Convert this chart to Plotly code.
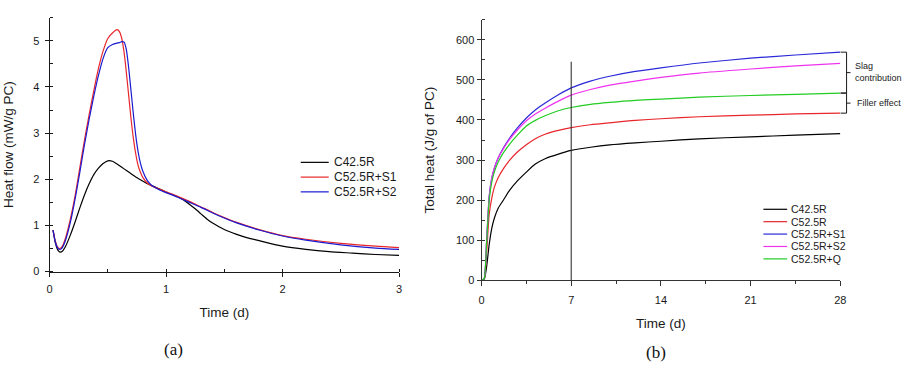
import plotly.graph_objects as go

W, H = 909, 374

# ---------------- Panel (a): heat flow ----------------
a_time_black = [0.03, 0.05, 0.07, 0.09, 0.11, 0.14, 0.18, 0.22, 0.26, 0.30, 0.34, 0.38, 0.42, 0.46,
                0.50, 0.54, 0.58, 0.62, 0.66, 0.70, 0.74, 0.78, 0.82, 0.86, 0.90, 0.95, 1.00, 1.05,
                1.10, 1.15, 1.20, 1.25, 1.30, 1.35, 1.40, 1.50, 1.60, 1.70, 1.80, 2.00, 2.20, 2.40,
                2.60, 2.80, 3.00]
a_c425r = [0.90, 0.62, 0.47, 0.42, 0.44, 0.56, 0.80, 1.08, 1.38, 1.66, 1.90, 2.10, 2.24, 2.34,
           2.40, 2.39, 2.33, 2.26, 2.19, 2.12, 2.05, 1.99, 1.93, 1.88, 1.84, 1.78, 1.72, 1.67,
           1.62, 1.55, 1.46, 1.36, 1.25, 1.14, 1.05, 0.91, 0.81, 0.73, 0.67, 0.55, 0.48, 0.43,
           0.40, 0.37, 0.35]

a_time_blend = [0.03, 0.05, 0.07, 0.09, 0.11, 0.14, 0.18, 0.22, 0.26, 0.30, 0.34, 0.38, 0.42, 0.46,
                0.50, 0.54, 0.58, 0.60, 0.62, 0.64, 0.66, 0.68, 0.70, 0.72, 0.74, 0.76, 0.78, 0.80,
                0.84, 0.88, 0.92, 0.96, 1.00, 1.10, 1.20, 1.30, 1.40, 1.50, 1.60, 1.80, 2.00, 2.20,
                2.50, 2.80, 3.00]
a_s1 = [0.90, 0.66, 0.53, 0.50, 0.55, 0.75, 1.15, 1.65, 2.25, 2.85, 3.40, 3.92, 4.40, 4.78,
        5.05, 5.17, 5.24, 5.20, 5.05, 4.75, 4.30, 3.80, 3.30, 2.88, 2.55, 2.30, 2.15, 2.04,
        1.92, 1.85, 1.81, 1.77, 1.73, 1.63, 1.52, 1.40, 1.28, 1.17, 1.07, 0.91, 0.78, 0.70,
        0.61, 0.55, 0.52]
a_s2 = [0.90, 0.64, 0.51, 0.48, 0.52, 0.70, 1.08, 1.58, 2.15, 2.75, 3.30, 3.80, 4.25, 4.62,
        4.85, 4.92, 4.95, 4.96, 4.98, 4.97, 4.80, 4.40, 3.90, 3.40, 2.95, 2.60, 2.35, 2.18,
        1.97, 1.86, 1.80, 1.75, 1.71, 1.61, 1.50, 1.39, 1.27, 1.16, 1.06, 0.90, 0.77, 0.68,
        0.58, 0.51, 0.48]

a_names = ["C42.5R", "C52.5R+S1", "C52.5R+S2"]
a_colors = ["#000000", "#e8262b", "#1a1ad0"]
a_xticks = [0, 1, 2, 3]
a_yticks = [0, 1, 2, 3, 4, 5]

# ---------------- Panel (b): total heat ----------------
b_time = [0, 0.2, 0.4, 0.6, 0.8, 1.0, 1.3, 1.7, 2.2, 2.8, 3.5, 4.2, 5, 6, 7, 8.5, 10, 12, 14,
          17, 21, 24.5, 28]
b_c425r = [0, 2, 35, 90, 130, 155, 180, 200, 225, 248, 270, 290, 304, 315, 324, 332, 338, 343,
           347, 353, 358, 362, 366]
b_c525r = [0, 3, 70, 165, 205, 232, 256, 278, 300, 320, 338, 353, 365, 374, 381, 388, 393, 399,
           403, 408, 412, 415, 417]
b_s1 = [0, 4, 100, 210, 255, 280, 305, 330, 355, 380, 405, 425, 443, 463, 480, 497, 509, 521,
        530, 542, 554, 562, 569]
b_s2 = [0, 4, 100, 210, 255, 280, 305, 328, 352, 375, 398, 415, 430, 447, 462, 476, 487, 497,
        506, 517, 527, 535, 541]
b_q = [0, 4, 95, 200, 245, 270, 295, 318, 340, 362, 385, 399, 411, 423, 431, 439, 444, 449,
       452, 457, 461, 464, 467]

b_names = ["C42.5R", "C52.5R", "C52.5R+S1", "C52.5R+S2", "C52.5R+Q"]
b_colors = ["#000000", "#e8262b", "#2a2ad8", "#ee33ee", "#22cc22"]
b_xticks = [0, 7, 14, 21, 28]
b_yticks = [0, 100, 200, 300, 400, 500, 600]

marker_day = 7
marker_top = 545

brace_labels = [["Slag", "contribution"], ["Filler effect"]]


def pxx(x):
    return x / W


def pyy(y):
    return 1 - y / H


fig = go.Figure()

for t, y, name, c in zip([a_time_black, a_time_blend, a_time_blend], [a_c425r, a_s1, a_s2],
                         a_names, a_colors):
    fig.add_trace(go.Scatter(x=t, y=y, name=name, mode="lines", xaxis="x", yaxis="y",
                             line=dict(color=c, width=1.2, shape="spline", smoothing=0.6),
                             showlegend=False))

for y, name, c in zip([b_c425r, b_c525r, b_s1, b_s2, b_q], b_names, b_colors):
    fig.add_trace(go.Scatter(x=b_time, y=y, name=name, mode="lines", xaxis="x2", yaxis="y2",
                             line=dict(color=c, width=1.2, shape="spline", smoothing=0.6),
                             showlegend=False))

# vertical marker at 7 d
fig.add_trace(go.Scatter(x=[marker_day, marker_day], y=[0, marker_top], mode="lines",
                         xaxis="x2", yaxis="y2", line=dict(color="#333333", width=1.1),
                         showlegend=False, hoverinfo="skip"))

axis_common = dict(showline=True, linecolor="#1a1a1a", linewidth=1, showgrid=False,
                   zeroline=False, ticks="outside", ticklen=4, tickcolor="#1a1a1a",
                   tickfont=dict(family="Liberation Sans, Arial", size=11, color="#1a1a1a"),
                   fixedrange=True)
title_font = dict(family="Liberation Sans, Arial", size=13.5, color="#1a1a1a")

fig.update_layout(
    width=W, height=H, margin=dict(l=0, r=0, t=0, b=0),
    paper_bgcolor="white", plot_bgcolor="white", showlegend=False,
    xaxis=dict(axis_common, domain=[pxx(47), pxx(400)], range=[0, 3], tickvals=a_xticks,
               anchor="y", ticklabelstandoff=3,
               minor=dict(dtick=0.5, ticks="inside", ticklen=3, tickcolor="#1a1a1a"),
               title=dict(text="Time (d)", font=title_font, standoff=13)),
    yaxis=dict(axis_common, domain=[pyy(276), pyy(18)], range=[0, 5.5], tickvals=a_yticks,
               anchor="x", ticklabelstandoff=3,
               minor=dict(dtick=0.5, ticks="inside", ticklen=3, tickcolor="#1a1a1a"),
               title=dict(text="Heat flow (mW/g PC)", font=title_font, standoff=16)),
    xaxis2=dict(axis_common, domain=[pxx(483.3), pxx(845.7)], range=[0, 28], tickvals=b_xticks,
                anchor="y2", ticklabelstandoff=4,
                minor=dict(dtick=3.5, ticks="outside", ticklen=3, tickcolor="#333"),
                ticklen=5, linecolor="#333", tickcolor="#333",
                title=dict(text="Time (d)", font=title_font, standoff=13)),
    yaxis2=dict(axis_common, domain=[pyy(285), pyy(20)], range=[0, 650], tickvals=b_yticks,
                anchor="x2", minor=dict(dtick=50, ticks="inside", ticklen=3, tickcolor="#333"),
                linecolor="#333", tickcolor="#333",
                title=dict(text="Total heat (J/g of PC)", font=title_font, standoff=18)),
)

shapes = []
annotations = []

# legend (a)
for i, (name, c) in enumerate(zip(a_names, a_colors)):
    yy = 165 + 15 * i
    shapes.append(dict(type="line", xref="paper", yref="paper", x0=pxx(300.7), x1=pxx(329),
                       y0=pyy(yy), y1=pyy(yy), line=dict(color=c, width=1.2)))
    annotations.append(dict(xref="paper", yref="paper", x=pxx(332), y=pyy(yy), text=name,
                            showarrow=False, xanchor="left", yanchor="middle",
                            font=dict(family="Liberation Sans, Arial", size=12, color="#1a1a1a")))

# legend (b)
for i, (name, c) in enumerate(zip(b_names, b_colors)):
    yy = 212.7 + 12.6 * i
    shapes.append(dict(type="line", xref="paper", yref="paper", x0=pxx(768), x1=pxx(792),
                       y0=pyy(yy), y1=pyy(yy), line=dict(color=c, width=1.2)))
    annotations.append(dict(xref="paper", yref="paper", x=pxx(794), y=pyy(yy), text=name,
                            showarrow=False, xanchor="left", yanchor="middle",
                            font=dict(family="Liberation Sans, Arial", size=10.5, color="#1a1a1a")))

# braces: slag contribution (Q -> S1), filler effect (C52.5R -> Q)
brace_ranges = [(b_q[-1], b_s1[-1]), (b_c525r[-1], b_q[-1])]
bx0, bx1, bx2 = pxx(846), pxx(852), pxx(856)
for (lo, hi), lbl in zip(brace_ranges, brace_labels):
    mid = (lo + hi) / 2
    path = (f"M {bx0},{hi} L {bx1},{hi} L {bx1},{lo} L {bx0},{lo} "
            f"M {bx1},{mid} L {bx2},{mid}")
    shapes.append(dict(type="path", xref="paper", yref="y2", path=path,
                       line=dict(color="#1a1a1a", width=1)))

note_font = dict(family="Liberation Sans, Arial", size=9, color="#1a1a1a")
annotations.append(dict(xref="paper", yref="paper", x=pxx(859), y=pyy(67), text="Slag",
                        showarrow=False, xanchor="left", yanchor="middle", font=note_font))
annotations.append(dict(xref="paper", yref="paper", x=pxx(859), y=pyy(79), text="contribution",
                        showarrow=False, xanchor="left", yanchor="middle", font=note_font))
annotations.append(dict(xref="paper", yref="paper", x=pxx(861), y=pyy(105), text="Filler effect",
                        showarrow=False, xanchor="left", yanchor="middle", font=note_font))

# panel labels
annotations.append(dict(xref="paper", yref="paper", x=pxx(172), y=pyy(355), text="(a)",
                        showarrow=False, xanchor="center", yanchor="middle",
                        font=dict(family="Liberation Serif, Times New Roman", size=17, color="#111")))
annotations.append(dict(xref="paper", yref="paper", x=pxx(660), y=pyy(358), text="(b)",
                        showarrow=False, xanchor="center", yanchor="middle",
                        font=dict(family="Liberation Serif, Times New Roman", size=17, color="#111")))

fig.update_layout(shapes=shapes, annotations=annotations)

fig.write_html("out.html")
